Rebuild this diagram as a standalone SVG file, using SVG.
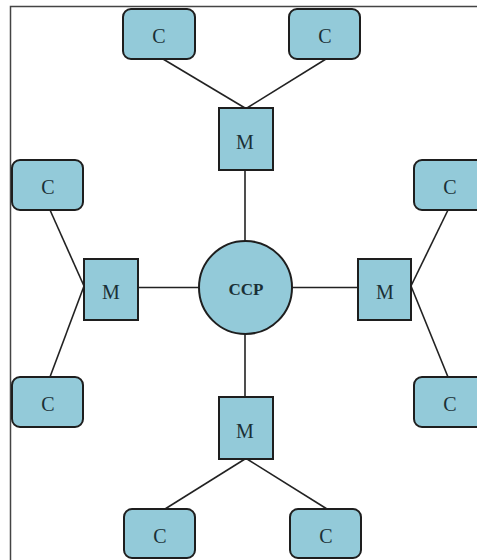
<svg xmlns="http://www.w3.org/2000/svg" width="477" height="560" viewBox="0 0 477 560">
<style>
.box{fill:#93cad9;stroke:#1e1e1e;stroke-width:2}
.ln{stroke:#222;stroke-width:1.6;fill:none}
.t{font-family:"Liberation Serif",serif;font-size:20px;fill:#1a3036;text-anchor:middle;dominant-baseline:central}
.b{font-weight:bold;font-size:17px}
</style>
<rect width="477" height="560" fill="#fff"/>
<path d="M10.5 560V6.5H477" fill="none" stroke="#444" stroke-width="1.5"/>
<g id="connectors">
<line class="ln" x1="163" y1="59" x2="245" y2="108"/>
<line class="ln" x1="326" y1="59" x2="247" y2="108"/>
<line class="ln" x1="245" y1="170" x2="245" y2="241"/>
<line class="ln" x1="245" y1="334" x2="245" y2="397"/>
<line class="ln" x1="138" y1="287.5" x2="199" y2="287.5"/>
<line class="ln" x1="292" y1="287.5" x2="358" y2="287.5"/>
<line class="ln" x1="50" y1="210" x2="84" y2="286"/>
<line class="ln" x1="84" y1="286" x2="50" y2="377"/>
<line class="ln" x1="448" y1="210" x2="411" y2="286"/>
<line class="ln" x1="411" y1="286" x2="448" y2="377"/>
<line class="ln" x1="245" y1="459" x2="165" y2="509"/>
<line class="ln" x1="247" y1="459" x2="327" y2="509"/>
</g>
<g id="ccp"><circle class="box" cx="245.5" cy="287.5" r="46.5"/><text class="t b" x="246" y="289">CCP</text></g>
<g id="m-top"><rect class="box" x="219" y="108" width="54" height="62"/><text class="t" x="245" y="142">M</text></g>
<g id="m-left"><rect class="box" x="84" y="259" width="54" height="61"/><text class="t" x="111" y="292">M</text></g>
<g id="m-right"><rect class="box" x="358" y="259" width="53" height="61"/><text class="t" x="385" y="292">M</text></g>
<g id="m-bottom"><rect class="box" x="219" y="397" width="54" height="62"/><text class="t" x="245" y="431">M</text></g>
<g id="c-top-left"><rect class="box" x="123" y="9" width="72" height="50" rx="8"/><text class="t" x="159" y="36">C</text></g>
<g id="c-top-right"><rect class="box" x="289" y="9" width="71" height="50" rx="8"/><text class="t" x="325" y="36">C</text></g>
<g id="c-left-top"><rect class="box" x="12" y="160" width="71" height="50" rx="8"/><text class="t" x="48" y="187">C</text></g>
<g id="c-left-bottom"><rect class="box" x="12" y="377" width="71" height="50" rx="8"/><text class="t" x="48" y="404">C</text></g>
<g id="c-right-top"><rect class="box" x="414" y="160" width="71" height="50" rx="8"/><text class="t" x="450" y="187">C</text></g>
<g id="c-right-bottom"><rect class="box" x="414" y="377" width="71" height="50" rx="8"/><text class="t" x="450" y="404">C</text></g>
<g id="c-bottom-left"><rect class="box" x="124" y="509" width="71" height="49" rx="8"/><text class="t" x="160" y="536">C</text></g>
<g id="c-bottom-right"><rect class="box" x="290" y="509" width="71" height="49" rx="8"/><text class="t" x="326" y="536">C</text></g>
</svg>
